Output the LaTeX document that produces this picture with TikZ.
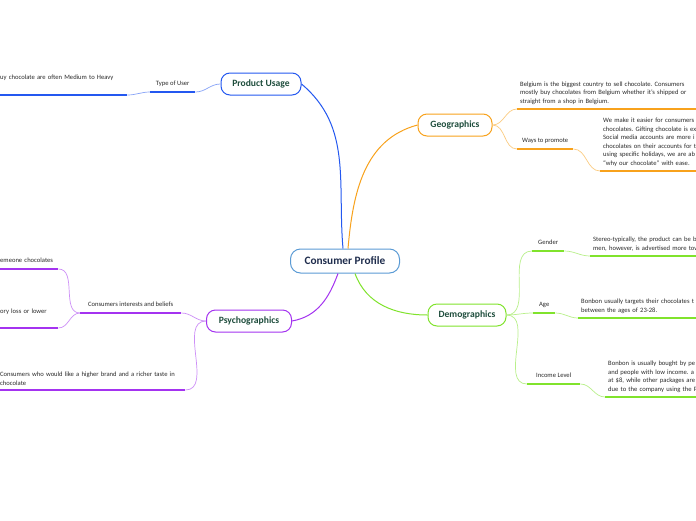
\documentclass[tikz,border=0pt]{standalone}
\usepackage{fontspec}
\setmainfont{Carlito}
\usetikzlibrary{calc}
\definecolor{rootline}{HTML}{5B9BD5}
\definecolor{roottext}{HTML}{1F2D4D}
\definecolor{topictext}{HTML}{1E4D3C}
\definecolor{usageblue}{HTML}{2458F0}
\definecolor{geoorange}{HTML}{F8A21C}
\definecolor{demogreen}{HTML}{80E32C}
\definecolor{psypurple}{HTML}{A433F0}
\definecolor{leaftext}{HTML}{2B2B2B}
\frenchspacing

\begin{document}
\begin{tikzpicture}[
    x=1pt, y=1pt,
    rootbox/.style={
      draw=rootline, line width=1pt, fill=white, rounded corners=10pt,
      font=\fontsize{11.3}{13}\selectfont\bfseries, text=roottext,
      minimum width=109pt, minimum height=24pt, inner sep=0pt,
    },
    topicbox/.style={
      draw=#1, line width=1pt, fill=white, rounded corners=9pt,
      font=\fontsize{9.6}{11}\selectfont\bfseries, text=topictext,
      minimum height=22pt, inner sep=0pt,
    },
    leaf/.style={
      anchor=south west, font=\fontsize{6.6}{8.5}\selectfont, text=leaftext,
      align=left, inner xsep=3pt, inner ysep=4.5pt,
    },
    tagleaf/.style={leaf, text depth=1.6pt},
    link/.style={draw=#1, line width=1pt},
    twig/.style={draw=#1!55, line width=0.7pt},
    uline/.style={draw=#1, line width=1.3pt},
  ]

  % canvas
  \path[use as bounding box] (0,0) rectangle (696,-520);
  \clip (0,0) rectangle (696,-520);
  \fill[white] (0,0) rectangle (696,-520);

  % =================== ROOT AND MAIN TOPICS ===================
  \node[rootbox] (cp) at (345,-261) {Consumer Profile};
  \node[topicbox=usageblue, minimum width=80pt] (pu) at (261,-84) {Product Usage};
  \node[topicbox=geoorange, minimum width=74pt] (geo) at (455,-125) {Geographics};
  \node[topicbox=demogreen, minimum width=78pt] (dem) at (467,-315) {Demographics};
  \node[topicbox=psypurple, minimum width=85pt] (psy) at (249,-321) {Psychographics};

  \draw[link=usageblue] ($(cp.north)+(-2,0)$) to[out=95,in=-40] (pu.east);
  \draw[link=geoorange] ($(cp.north)+(3,0)$) to[out=85,in=195] (geo.west);
  \draw[link=demogreen] ($(cp.south)+(10,0)$) to[out=-70,in=180] (dem.west);
  \draw[link=psypurple] ($(cp.south)+(-7,0)$) to[out=-110,in=10] (psy.east);

  % =================== PRODUCT USAGE ===================
  \node[tagleaf, minimum width=45pt] (tou) at (150,-92) {Type of User};
  \node[tagleaf, text width=124pt, text depth=10.5pt] (ulf) at (-3,-95)
    {uy chocolate are often Medium to Heavy};

  \draw[twig=usageblue] (pu.west) to[out=180,in=0] (tou.south east);
  \draw[twig=usageblue] (tou.south west) to[out=180,in=0] (ulf.south east);
  \draw[uline=usageblue] (tou.south west) -- (tou.south east);
  \draw[uline=usageblue] (ulf.south west) -- (ulf.south east);

  % =================== GEOGRAPHICS ===================
  \node[leaf, text width=200pt] (gbel) at (517,-109)
    {Belgium is the biggest country to sell chocolate. Consumers\\
     mostly buy chocolates from Belgium whether it's shipped or\\
     straight from a shop in Belgium.};
  \node[tagleaf, minimum width=56pt] (wtp) at (517,-149) {Ways to promote};
  \node[leaf, text width=200pt] (gpro) at (600,-171)
    {We make it easier for consumers\\
     chocolates. Gifting chocolate is ex\\
     Social media accounts are more i\\
     chocolates on their accounts for t\\
     using specific holidays, we are ab\\
     ``why our chocolate'' with ease.};

  \draw[twig=geoorange] (geo.east) to[out=0,in=180] (gbel.south west);
  \draw[twig=geoorange] (geo.east) to[out=0,in=180] (wtp.south west);
  \draw[twig=geoorange] (wtp.south east) to[out=0,in=180] (gpro.south west);
  \draw[uline=geoorange] (gbel.south west) -- (gbel.south east);
  \draw[uline=geoorange] (wtp.south west) -- (wtp.south east);
  \draw[uline=geoorange] (gpro.south west) -- (gpro.south east);

  % =================== DEMOGRAPHICS ===================
  \node[tagleaf, minimum width=32pt] (gen) at (532,-251) {Gender};
  \node[leaf, text width=200pt] (gtx) at (590,-256)
    {Stereo-typically, the product can be b\\
     men, however, is advertised more tow};
  \node[tagleaf, minimum width=22pt] (age) at (533,-313) {Age};
  \node[leaf, text width=200pt] (atx) at (578,-318)
    {Bonbon usually targets their chocolates t\\
     between the ages of 23-28.};
  \node[tagleaf, minimum width=53pt] (inc) at (527,-384) {Income Level};
  \node[leaf, text width=200pt] (itx) at (605,-397)
    {Bonbon is usually bought by pe\\
     and people with low income. a 1\\
     at \$8, while other packages are\\
     due to the company using the P};

  \draw[twig=demogreen] (dem.east) to[out=0,in=180] (gen.south west);
  \draw[twig=demogreen] (dem.east) to[out=0,in=180] (age.south west);
  \draw[twig=demogreen] (dem.east) to[out=0,in=180] (inc.south west);
  \draw[twig=demogreen] (gen.south east) to[out=0,in=180] (gtx.south west);
  \draw[twig=demogreen] (age.south east) to[out=0,in=180] (atx.south west);
  \draw[twig=demogreen] (inc.south east) to[out=0,in=180] (itx.south west);
  \foreach \n in {gen,gtx,age,atx,inc,itx}
    \draw[uline=demogreen] (\n.south west) -- (\n.south east);

  % =================== PSYCHOGRAPHICS ===================
  \node[tagleaf, minimum width=101pt] (cib) at (80,-313) {Consumers interests and beliefs};
  \node[tagleaf, text width=55pt] (pgift) at (-3,-269) {emeone chocolates};
  \node[tagleaf, text width=55pt, text depth=9.5pt] (pmem) at (-3,-328) {ory loss or lower};
  \node[leaf, text width=182pt] (pbrand) at (-3,-390)
    {Consumers who would like a higher brand and a richer taste in\\
     chocolate};

  \draw[twig=psypurple] (psy.west) to[out=180,in=0] (cib.south east);
  \draw[twig=psypurple] (psy.west) to[out=180,in=0] (pbrand.south east);
  \draw[twig=psypurple] (cib.south west) to[out=180,in=0] (pgift.south east);
  \draw[twig=psypurple] (cib.south west) to[out=180,in=0] (pmem.south east);
  \foreach \n in {cib,pgift,pmem,pbrand}
    \draw[uline=psypurple] (\n.south west) -- (\n.south east);

\end{tikzpicture}
\end{document}
